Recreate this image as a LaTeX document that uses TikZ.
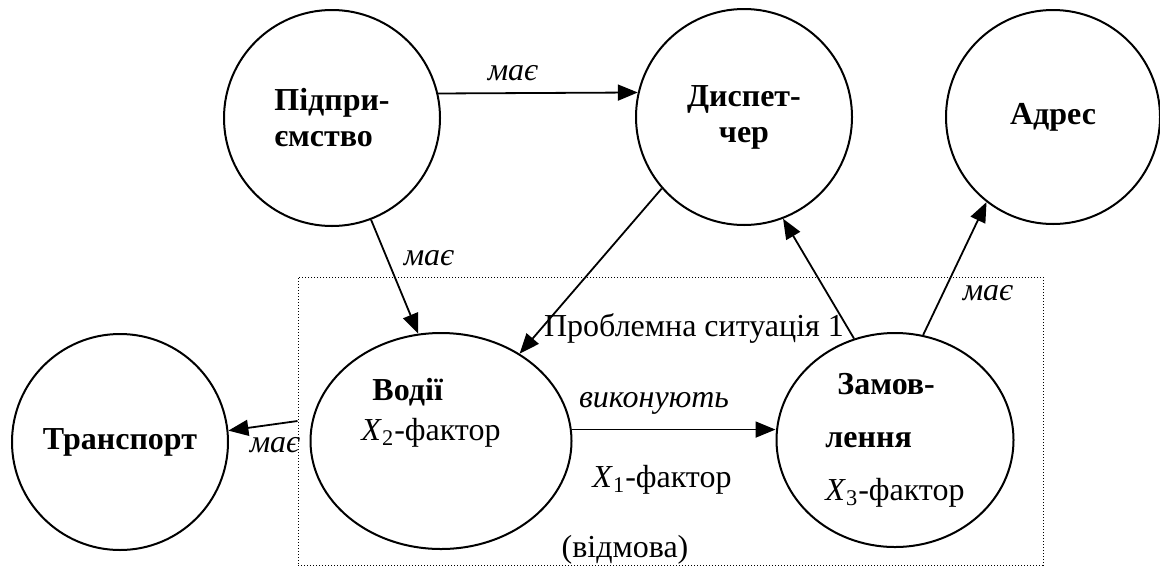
\documentclass[tikz,border=0pt]{standalone}
\usepackage{fontspec}
\setmainfont{Liberation Serif}[BoldFont={Liberation Serif Bold}, ItalicFont={Liberation Serif Italic}, BoldItalicFont={Liberation Serif Bold Italic}]
\usetikzlibrary{arrows.meta,shapes.geometric}

\newcommand\diagfnt{\fontsize{16}{18}\selectfont}

\tikzset{
	ent/.style={draw, line width=1pt, circle, inner sep=0pt, minimum size=108pt, font=\diagfnt\bfseries},
	entov/.style={draw, line width=1pt, ellipse, inner sep=0pt, font=\diagfnt},
	rel/.style={-{Triangle[length=10pt,width=8pt]}, line width=0.9pt},
	lbl/.style={font=\diagfnt\itshape, inner sep=0pt},
	txt/.style={font=\diagfnt, inner sep=0pt},
	sit/.style={draw, line width=0.5pt, dash pattern=on 0.5pt off 1pt, inner sep=0pt}
}

\begin{document}
\begin{tikzpicture}[x=0.5pt,y=-0.5pt]
		\useasboundingbox (0,0) rectangle (1160,568);
		% problem situation box
		\node[sit, minimum width=372.5pt, minimum height=144pt] (probl) at (670.5,421) {};
		\node[txt] (probltxt) at (694,328) {Проблемна ситуація 1};
		% entities
		\node[ent, align=left] (pidpr) at (332,118) {Підпри-\\ємство};
		\node[ent, align=center] (dysp) at (744,117) {Диспет-\\чер};
		\node[ent, minimum size=107pt] (adres) at (1053,117) {Адрес};
		\node[ent] (transp) at (120,442) {Транспорт};
		\node[entov, minimum width=130.5pt, minimum height=108pt] (vodii) at (441,441) {};
		\node[txt, align=left] (vodiitxt) at (431,413) {\hspace{5.5pt}\textbf{Водії}\\[2pt]\textit{X}\textsubscript{2}-фактор};
		\node[entov, minimum width=118.5pt, minimum height=107pt, align=left] (zamov) at (895,440)
			{\hspace{6pt}\textbf{Замов-}\\[8.5pt]\textbf{лення}\\[8.5pt]\textit{X}\textsubscript{3}-фактор};
		% relations
		\draw[rel] (pidpr.13) -- (dysp.167);
		\draw[rel] (pidpr.-69) -- (vodii.102);
		\draw[rel] (dysp.221) -- (vodii.48);
		\draw[rel] (zamov.112) -- (dysp.-69);
		\draw[rel] (zamov.75) -- (adres.-128);
		\draw[rel] (probl.west) -- (transp.6);
		\draw[rel] (vodii.5) -- (vodii.5 -| zamov.west);
		% labels
		\node[lbl] (m1) at (513,73) {має};
		\node[lbl] (m2) at (429,258) {має};
		\node[lbl] (m3) at (988,293) {має};
		\node[lbl] (m4) at (275,445) {має};
		\node[lbl] (vykon) at (654,403) {виконують};
		\node[txt] (x1) at (662,480) {\textit{X}\textsubscript{1}-фактор};
		\node[txt] (vidm) at (625,550) {(відмова)};
\end{tikzpicture}
\end{document}
